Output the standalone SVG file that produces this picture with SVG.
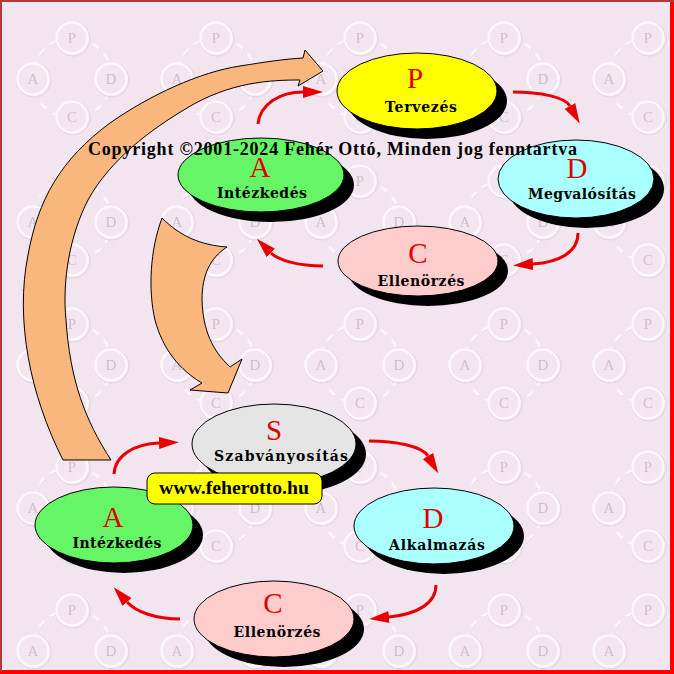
<svg xmlns="http://www.w3.org/2000/svg" width="674" height="674" viewBox="0 0 674 674">
<style>
.wmarc{fill:none;stroke:#fbf6fa;stroke-width:2.5;stroke-dasharray:8 7}
.wmarc2{fill:none;stroke:#e2d5df;stroke-width:1;stroke-dasharray:8 7}
.wmc{fill:#f3e6f0;stroke:#fcf8fb;stroke-width:2.5}
.wmc2{fill:none;stroke:#e0d3de;stroke-width:1}
.wmt{font-family:"Liberation Serif",serif;font-size:15px;fill:#cdbfcb;text-anchor:middle}
.sh{fill:#000}
.el{stroke:#000;stroke-width:1}
.ti{font-family:"Liberation Serif","DejaVu Serif",serif;font-size:29px;fill:#e00000;text-anchor:middle}
.lb{font-family:"DejaVu Serif","Liberation Serif",serif;font-weight:bold;font-size:14px;fill:#000;text-anchor:middle}
.big{fill:#f9b77e;stroke:#000;stroke-width:1}
.ra{fill:none;stroke:#e80000;stroke-width:3;marker-end:url(#ah)}
.cp{font-family:"Liberation Serif","DejaVu Serif",serif;font-weight:bold;font-size:18px;fill:#000}
</style>
<defs>
<pattern id="wm" width="144" height="143" patternUnits="userSpaceOnUse">
<rect width="144" height="143" fill="#f3e5f0"/>
<circle class="wmarc2" cx="73" cy="79" r="40"/>
<circle class="wmarc" cx="72" cy="78" r="40"/>
<circle class="wmc2" cx="73" cy="39" r="17"/><circle class="wmc" cx="72" cy="38" r="15.5"/>
<circle class="wmc2" cx="34" cy="80" r="17"/><circle class="wmc" cx="33" cy="79" r="15.5"/>
<circle class="wmc2" cx="112" cy="80" r="17"/><circle class="wmc" cx="111" cy="79" r="15.5"/>
<circle class="wmc2" cx="73" cy="118" r="17"/><circle class="wmc" cx="72" cy="117" r="15.5"/>
<text class="wmt" x="72" y="43">P</text>
<text class="wmt" x="33" y="84">A</text>
<text class="wmt" x="111" y="84">D</text>
<text class="wmt" x="72" y="122">C</text>
</pattern>
<marker id="ah" markerUnits="userSpaceOnUse" markerWidth="20" markerHeight="13" refX="0" refY="6" orient="auto" viewBox="0 0 20 12">
<path d="M0,0 L20,6 L0,12 Z" fill="#e80000"/>
</marker>
</defs>
<rect width="674" height="674" fill="url(#wm)"/>
<rect x="670" y="0" width="4" height="674" fill="#ff0000"/>
<rect x="0" y="670" width="674" height="4" fill="#ff0000"/>
<rect x="0" y="0" width="674" height="2" fill="#b03a3a"/>
<rect x="0" y="0" width="2" height="672" fill="#b03a3a"/>

<g id="big-arrows">
<path class="big" d="M63,460 C30,395 15,320 28,255 C38,200 60,160 110,123 C150,95 200,72 240,66 C265,62 285,59 303,58 L305,50 L323,71 L298,86 L300,80 C270,80 230,82 187,108 C150,130 110,160 88,200 C70,235 62,280 66,320 C70,380 85,420 111,460 Z"/>
<path class="big" d="M162,218 C150,250 148,290 155,320 C163,350 180,370 202,383 L190,390 L228,393 L242,359 L230,367 C212,350 203,330 202,300 C202,275 210,258 227,247 C200,245 180,236 162,218 Z"/>
</g>

<g id="connectors">
<path class="ra" d="M258,124 C260,104 280,92 303,92"/>
<path class="ra" d="M513,92 C540,92 565,97 570,106"/>
<path class="ra" d="M578,233 C578,252 560,262 533,264"/>
<path class="ra" d="M323,266 C298,266 278,260 271,253"/>
<path class="ra" d="M114,474 C115,455 135,444 159,443"/>
<path class="ra" d="M369,441 C395,441 422,446 428,456"/>
<path class="ra" d="M436,585 C436,603 418,614 389,617"/>
<path class="ra" d="M180,619 C156,619 136,612 127,602"/>
</g>

<g id="node-P">
<ellipse class="sh" cx="427" cy="101" rx="80" ry="38"/>
<ellipse class="el" cx="417" cy="91" rx="80" ry="38" fill="#ffff00"/>
<text class="ti" x="415" y="88">P</text>
<text class="lb" x="421" y="112" textLength="72" lengthAdjust="spacing">Tervezés</text>
</g>
<g id="node-D-top">
<ellipse class="sh" cx="586" cy="189" rx="78" ry="39"/>
<ellipse class="el" cx="576" cy="179" rx="78" ry="39" fill="#aaffff"/>
<text class="ti" x="577" y="178">D</text>
<text class="lb" x="582" y="199" textLength="108" lengthAdjust="spacing">Megvalósítás</text>
</g>
<g id="node-C-top">
<ellipse class="sh" cx="428" cy="271" rx="80" ry="35"/>
<ellipse class="el" cx="418" cy="261" rx="80" ry="35" fill="#ffcccc"/>
<text class="ti" x="418" y="263">C</text>
<text class="lb" x="421" y="286" textLength="87" lengthAdjust="spacing">Ellenörzés</text>
</g>
<g id="node-A-top">
<ellipse class="sh" cx="271" cy="185" rx="83" ry="37"/>
<ellipse class="el" cx="261" cy="175" rx="83" ry="37" fill="#66f566"/>
<text class="ti" x="260" y="177">A</text>
<text class="lb" x="262" y="198" textLength="90" lengthAdjust="spacing">Intézkedés</text>
</g>

<g id="node-S">
<ellipse class="sh" cx="284" cy="454" rx="82" ry="40"/>
<ellipse class="el" cx="274" cy="444" rx="82" ry="40" fill="#e4e4e4"/>
<text class="ti" x="274" y="440">S</text>
<text class="lb" x="281" y="461" textLength="134" lengthAdjust="spacing">Szabványosítás</text>
</g>
<g id="node-D-bottom">
<ellipse class="sh" cx="444" cy="536" rx="80" ry="38"/>
<ellipse class="el" cx="434" cy="526" rx="80" ry="38" fill="#aaffff"/>
<text class="ti" x="433" y="528">D</text>
<text class="lb" x="437" y="550" textLength="96" lengthAdjust="spacing">Alkalmazás</text>
</g>
<g id="node-C-bottom">
<ellipse class="sh" cx="284" cy="629" rx="80" ry="38"/>
<ellipse class="el" cx="274" cy="619" rx="80" ry="38" fill="#ffcccc"/>
<text class="ti" x="273" y="613">C</text>
<text class="lb" x="277" y="637" textLength="87" lengthAdjust="spacing">Ellenörzés</text>
</g>
<g id="node-A-bottom">
<ellipse class="sh" cx="124" cy="535" rx="79" ry="38"/>
<ellipse class="el" cx="114" cy="525" rx="79" ry="38" fill="#66f566"/>
<text class="ti" x="113" y="527">A</text>
<text class="lb" x="117" y="548" textLength="89" lengthAdjust="spacing">Intézkedés</text>
</g>

<g id="url">
<rect x="147" y="473" width="175" height="31" rx="8" fill="#ffff00" stroke="#000" stroke-width="1"/>
<text class="cp" x="234" y="494" text-anchor="middle" textLength="150" lengthAdjust="spacingAndGlyphs">www.feherotto.hu</text>
</g>

<g id="copyright">
<text class="cp" x="88" y="155" textLength="489" lengthAdjust="spacing">Copyright ©2001-2024 Fehér Ottó, Minden jog fenntartva</text>
</g>
</svg>
